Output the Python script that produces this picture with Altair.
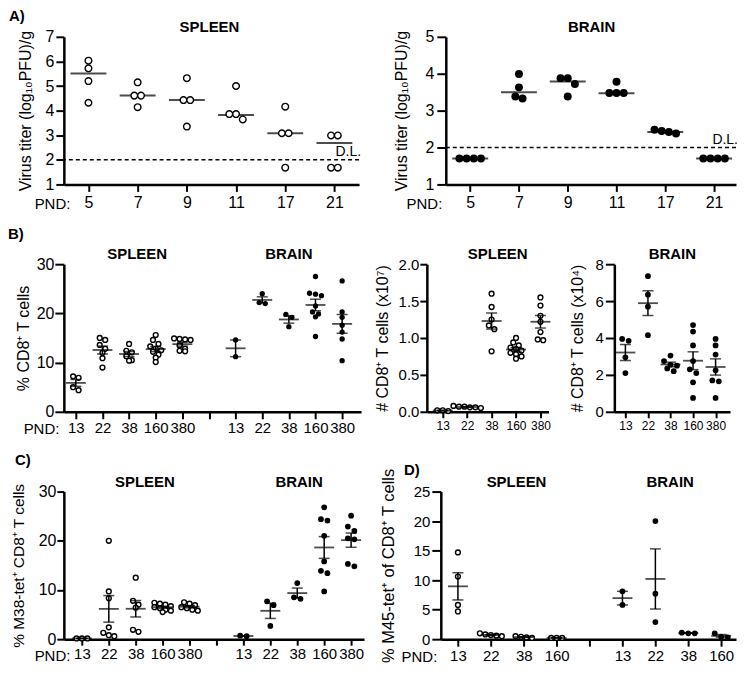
import math
import altair as alt
import pandas as pd

FONT = "Liberation Sans"
NARROW = "Liberation Sans Narrow, Liberation Sans"

# ---------------- data ----------------
# A) virus titer, log10 PFU/g
pnd_titer = ["5", "7", "9", "11", "17", "21"]
spleen_titer = [
    [6.03, 5.72, 5.20, 4.32],
    [5.15, 4.61, 4.61, 4.14],
    [5.32, 4.43, 4.43, 3.35],
    [5.00, 3.86, 3.86, 3.64],
    [4.16, 3.08, 3.08, 1.68],
    [2.99, 2.99, 1.68, 1.68],
]
spleen_titer_line = [5.51, 4.61, 4.43, 3.82, 3.08, 2.68]
brain_titer = [
    [1.70, 1.70, 1.70, 1.70],
    [3.99, 3.63, 3.38, 3.33],
    [3.88, 3.88, 3.72, 3.38],
    [3.78, 3.48, 3.48, 3.48],
    [2.48, 2.45, 2.42, 2.38],
    [1.70, 1.70, 1.70, 1.70],
]
brain_titer_line = [1.70, 3.50, 3.79, 3.47, 2.42, 1.70]
detection_limit = 2.0

# B) CD8+ T cells
pnd_cd8 = ["13", "22", "38", "160", "380"]
cd8_pct_spleen = [
    [7.2, 6.9, 5.0, 4.4],
    [15.0, 14.6, 13.6, 12.8, 12.0, 10.9, 9.0],
    [13.8, 12.4, 12.1, 11.3, 10.5, 10.4],
    [15.6, 14.6, 13.8, 13.3, 12.8, 12.5, 12.2, 11.6, 11.0, 10.1],
    [14.9, 14.8, 14.7, 14.6, 13.5, 12.8, 12.4, 12.3],
]
cd8_pct_brain = [
    [14.6, 11.2],
    [24.0, 22.2, 22.0],
    [19.8, 19.2, 17.3],
    [27.5, 24.1, 23.9, 23.6, 21.5, 20.3, 19.9, 19.3, 15.3],
    [26.6, 20.3, 19.2, 17.6, 16.2, 14.8, 10.4],
]
cd8_num_spleen = [  # x10^7
    [0.02, 0.01, 0.02],
    [0.08, 0.07, 0.06, 0.07, 0.05, 0.06],
    [1.60, 1.42, 1.25, 1.17, 1.12, 0.82],
    [1.00, 0.94, 0.90, 0.87, 0.85, 0.83, 0.80, 0.78, 0.75, 0.72],
    [1.55, 1.44, 1.30, 1.22, 1.08, 0.98, 0.97],
]
cd8_num_brain = [  # x10^4
    [3.95, 3.85, 2.95, 2.10],
    [7.35, 6.35, 5.70, 4.15],
    [3.05, 2.75, 2.55, 2.50, 2.35, 2.20],
    [4.70, 4.35, 3.60, 2.75, 2.30, 2.10, 1.60, 0.75],
    [3.95, 3.60, 3.10, 2.25, 1.70, 1.65, 0.75],
]

# C) M38-tet+ of CD8+ T cells (%)
pnd_m38 = ["13", "22", "38", "160", "380"]
m38_spleen = [
    [0.15, 0.15, 0.15],
    [20.0, 9.7, 8.3, 2.4, 1.3, 0.8, 0.6],
    [12.5, 7.8, 7.0, 6.4, 1.9, 1.5],
    [7.4, 7.2, 7.0, 6.7, 6.5, 6.3, 6.0, 5.8, 5.5],
    [7.5, 7.2, 6.9, 6.5, 6.3, 6.0, 5.8],
]
m38_brain = [
    [0.7, 0.6],
    [7.7, 6.9, 2.7],
    [11.4, 8.5, 8.2],
    [26.8, 24.4, 24.1, 21.0, 15.8, 13.9, 13.4, 9.7],
    [25.1, 22.9, 22.0, 20.5, 20.3, 15.3, 14.8],
]

# D) M45-tet+ of CD8+ T cells (%)
pnd_m45 = ["13", "22", "38", "160"]
m45_spleen = [
    [14.7, 10.6, 5.8, 4.7],
    [1.0, 0.8, 0.7, 0.6, 0.5],
    [0.5, 0.4, 0.3, 0.2],
    [0.2, 0.2, 0.2],
]
m45_brain = [
    [8.1, 5.8],
    [20.0, 7.7, 2.9],
    [1.1, 1.0, 1.0],
    [1.0, 0.4, 0.3],
]


# ---------------- helpers ----------------
def swarm(vals, ppu, diam, step):
    order = sorted(range(len(vals)), key=lambda i: -vals[i])
    clusters = []
    for i in order:
        if clusters and (vals[clusters[-1][0]] - vals[i]) * ppu < 0.8 * diam:
            clusters[-1].append(i)
        else:
            clusters.append([i])
    offs = [0.0] * len(vals)
    for c in clusters:
        k = len(c)
        for j, i in enumerate(c):
            offs[i] = (j - (k - 1) / 2) * diam * step
    return offs


def label_expr(labels):
    arr = ",".join("'" + s + "'" for s in labels)
    return "[" + arr + "][round(datum.value)]"


def area(d):
    return math.pi * d * d / 4


def two_organs(spleen, brain):
    n = len(spleen)
    g = [(i, v, False) for i, v in enumerate(spleen)]
    g += [(n + 1 + i, v, True) for i, v in enumerate(brain)]
    return g


def panel(groups, width, height, xdom, ydom, yticks, yfmt, ytitle, xlabels,
          d_open=6, d_filled=6.5, step=1.0, lines=None, line_size=36,
          ylab=15, ytit=16, ytick=8, ypad=2, ytpad=10,
          xtick=7, xpad=2, xfont=FONT, xlab=15,
          pnd=None, heads=(), letter=None, dl=None):
    pxx = width / (xdom[1] - xdom[0])
    pxy = height / (ydom[1] - ydom[0])
    rows = []
    for pos, vals, filled in groups:
        d = d_filled if filled else d_open
        offs = swarm(vals, pxy, d, step)
        for v, o in zip(vals, offs):
            rows.append({"grp": pos, "x": pos + o / pxx, "v": v, "filled": filled})
    df = pd.DataFrame(rows)

    xkw = dict(values=list(range(len(xlabels))), labelExpr=label_expr(xlabels),
               labelOverlap=False, labelFlush=False, labelPadding=xpad,
               tickSize=xtick, labelFontSize=xlab, labelFont=xfont)
    if pnd:
        xkw.update(title="PND:", titleX=pnd[0], titleY=pnd[1], titleAlign="right",
                   titleAngle=0, titleBaseline="alphabetic", titleFontSize=pnd[2],
                   titleFont=FONT, titleFontWeight="normal")
    else:
        xkw["title"] = None
    xaxis = alt.Axis(**xkw)
    yaxis = alt.Axis(values=yticks, format=yfmt, title=ytitle, labelFontSize=ylab,
                     titleFontSize=ytit, tickSize=ytick, labelPadding=ypad,
                     titlePadding=ytpad)
    xs = alt.Scale(domain=list(xdom), nice=False, zero=False)
    ys = alt.Scale(domain=list(ydom), nice=False, zero=False)

    def X(f):
        return alt.X(f, type="quantitative", scale=xs, axis=xaxis)

    def Y(f):
        return alt.Y(f, type="quantitative", scale=ys, axis=yaxis)

    layers = []
    op = df[~df["filled"]].drop(columns="filled")
    fp = df[df["filled"]].drop(columns="filled")
    if lines is not None:
        ldf = pd.DataFrame({"grp": [p for p, _ in lines], "m": [m for _, m in lines]})
        layers.append(alt.Chart(ldf).mark_tick(orient="horizontal", size=line_size,
                                               thickness=2, color="black")
                      .encode(x=X("grp"), y=Y("m")))
    if len(op):
        layers.append(alt.Chart(op).mark_point(shape="circle", filled=True, fill="white",
                                               stroke="black", strokeWidth=1.4,
                                               size=area(d_open), opacity=1)
                      .encode(x=X("x"), y=Y("v")))
    if len(fp):
        layers.append(alt.Chart(fp).mark_circle(color="black", size=area(d_filled), opacity=1)
                      .encode(x=X("x"), y=Y("v")))
    if lines is None:
        st = (alt.Chart(df.drop(columns="filled"))
              .transform_aggregate(m="mean(v)", se="stderr(v)", groupby=["grp"])
              .transform_calculate(lo="datum.m - datum.se", hi="datum.m + datum.se"))
        layers += [
            st.mark_rule(color="black", strokeWidth=1.5).encode(x=X("grp"), y=Y("lo"), y2=alt.Y2("hi")),
            st.mark_tick(orient="horizontal", size=20, thickness=1.8, color="black").encode(x=X("grp"), y=Y("m")),
            st.mark_tick(orient="horizontal", size=11, thickness=1.5, color="black").encode(x=X("grp"), y=Y("lo")),
            st.mark_tick(orient="horizontal", size=11, thickness=1.5, color="black").encode(x=X("grp"), y=Y("hi")),
        ]
    if dl is not None:
        dldf = pd.DataFrame({"dl": [dl], "xr": [xdom[1]], "t": ["D.L."]})
        layers.append(alt.Chart(dldf).mark_rule(color="black", strokeWidth=1.4, strokeDash=[4, 3])
                      .encode(y=Y("dl")))
        layers.append(alt.Chart(dldf).mark_text(align="right", baseline="bottom", dy=-1, dx=2,
                                                fontSize=14, font=FONT, color="black")
                      .encode(x=X("xr"), y=Y("dl"), text="t:N"))
    if heads:
        hdf = pd.DataFrame({"t": [h[0] for h in heads], "p": [h[1] for h in heads]})
        layers.append(alt.Chart(hdf).mark_text(fontSize=15, fontWeight="bold", font=FONT,
                                               baseline="middle", color="black")
                      .encode(x=X("p"), y=alt.value(-10), text="t:N"))
    if letter:
        layers.append(alt.Chart(pd.DataFrame({"t": [letter[0]]}))
                      .mark_text(align="left", baseline="middle", fontSize=15,
                                 fontWeight="bold", font=FONT, color="black")
                      .encode(x=alt.value(letter[1]), y=alt.value(letter[2]), text="t:N"))
    return alt.layer(*layers).properties(width=width, height=height)


# ---------------- panels ----------------
H = 148
a_spleen = panel([(i, v, False) for i, v in enumerate(spleen_titer)], 296, H, (-0.5, 5.5), (1, 7),
                 list(range(1, 8)), "d", "Virus titer (log\u2081\u2080PFU)/g", pnd_titer,
                 d_open=7.5, step=0.9, lines=list(enumerate(spleen_titer_line)),
                 ylab=16, ytit=16, ytick=8, ypad=2, ytpad=12, xtick=7, xpad=3, xlab=16,
                 pnd=(6, 24, 15), heads=[("SPLEEN", 2.46)], letter=("A)", -55, -21),
                 dl=detection_limit)
a_brain = panel([(i, v, True) for i, v in enumerate(brain_titer)], 291, H, (-0.5, 5.45), (1, 5),
                list(range(1, 6)), "d", "Virus titer (log\u2081\u2080PFU)/g", pnd_titer,
                d_filled=9, step=0.8, lines=list(enumerate(brain_titer_line)),
                ylab=16, ytit=16, ytick=9, ypad=3, ytpad=16, xtick=7, xpad=3, xlab=16,
                pnd=(-4, 24, 15), heads=[("BRAIN", 2.49)], dl=detection_limit)

b_pct = panel(two_organs(cd8_pct_spleen, cd8_pct_brain), 298, H, (-0.45, 10.71), (0, 30),
              [0, 10, 20, 30], "d", "% CD8\u207a T cells", pnd_cd8 + [""] + pnd_cd8,
              d_open=5.5, d_filled=6,
              ylab=16, ytit=16, ytick=9, ypad=1, ytpad=5, xtick=7, xpad=2, xlab=15,
              pnd=(-5, 22, 15), heads=[("SPLEEN", 2.3), ("BRAIN", 8.0)], letter=("B)", -56, -30))
b_num_spleen = panel([(i, v, False) for i, v in enumerate(cd8_num_spleen)], 122, H, (-0.65, 4.33),
                     (0, 2), [0, 0.5, 1.0, 1.5, 2.0], ".1f", "# CD8\u207a T cells (x10\u2077)", pnd_cd8,
                     d_open=5.5,
                     ylab=15, ytit=16, ytick=7, ypad=1, ytpad=8, xtick=6, xpad=3, xfont=NARROW, xlab=12,
                     heads=[("SPLEEN", 2.25)])
b_num_brain = panel([(i, v, True) for i, v in enumerate(cd8_num_brain)], 116, H, (-0.49, 4.64),
                    (0, 8), [0, 2, 4, 6, 8], "d", "# CD8\u207a T cells (x10\u2074)", pnd_cd8,
                    d_filled=6.5,
                    ylab=15, ytit=16, ytick=9, ypad=2, ytpad=10, xtick=6, xpad=3, xfont=NARROW, xlab=12,
                    heads=[("BRAIN", 2.08)])

c_m38 = panel(two_organs(m38_spleen, m38_brain), 301, H, (-0.67, 10.48), (0, 30),
              [0, 10, 20, 30], "d", "% M38-tet\u207a CD8\u207a T cells", pnd_m38 + [""] + pnd_m38,
              d_open=5.5, d_filled=6.5,
              ylab=16, ytit=15.5, ytick=7, ypad=1, ytpad=12, xtick=6, xpad=1, xlab=15,
              pnd=(6, 21, 15), heads=[("SPLEEN", 2.34), ("BRAIN", 8.07)], letter=("C)", -49, -32))
d_m45 = panel(two_organs(m45_spleen, m45_brain), 296, H, (-0.52, 8.45), (0, 25),
              [0, 5, 10, 15, 20, 25], "d", "% M45-tet\u207a of CD8\u207a T cells", pnd_m45 + [""] + pnd_m45,
              d_open=5.5, d_filled=6.5,
              ylab=15, ytit=16.5, ytick=9, ypad=2, ytpad=17, xtick=7, xpad=2, xlab=15,
              pnd=(-4, 22, 15), heads=[("SPLEEN", 1.78), ("BRAIN", 6.45)], letter=("D)", -37, -22))

row_a = alt.hconcat(a_spleen, a_brain, spacing=87, bounds="flush")
row_b = alt.hconcat(b_pct, b_num_spleen, b_num_brain, spacing=66, bounds="flush")
row_c = alt.hconcat(c_m38, d_m45, spacing=77, bounds="flush")

chart = (alt.vconcat(row_a, row_b, row_c, spacing=16)
         .properties(padding=0, background="white")
         .configure_view(stroke=None)
         .configure_axis(domainColor="black", domainWidth=2.5, tickColor="black", tickWidth=2,
                         labelColor="black", titleColor="black", grid=False,
                         labelFont=FONT, titleFont=FONT, titleFontWeight="normal"))

chart.save("out.html", embed_options={"renderer": "svg", "actions": False})
